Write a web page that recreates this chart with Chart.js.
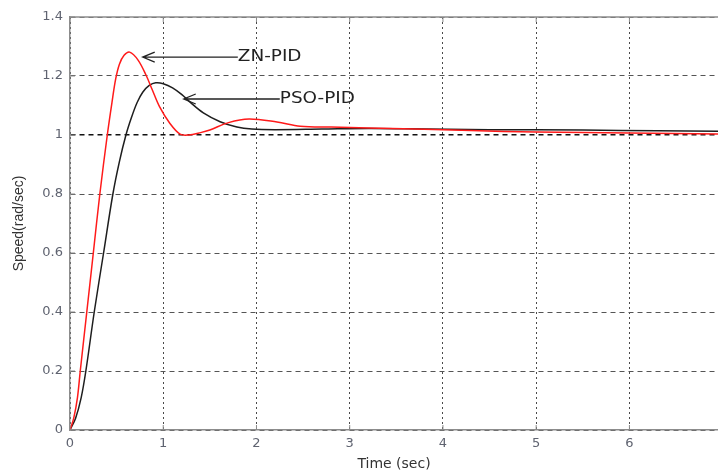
<!DOCTYPE html>
<html>
<head>
<meta charset="utf-8">
<script src="https://cdn.jsdelivr.net/npm/chart.js@4.4.1/dist/chart.umd.min.js"></script>
<style>
  html, body { margin: 0; padding: 0; background: #fff; }
  canvas { display: block; }
</style>
</head>
<body>
<canvas id="speedChart" width="718" height="475"></canvas>
<script>
// step responses
const znTime = [0, 0.04, 0.08, 0.11, 0.18, 0.25, 0.32, 0.40, 0.45, 0.49, 0.53, 0.58, 0.64, 0.73, 0.82, 0.88, 0.96, 1.07, 1.18, 1.27, 1.4, 1.5, 1.7, 1.92, 2.22, 2.47, 2.8, 3.2, 3.7, 4.3, 5.0, 6.0, 6.95];
const znSpeed = [0, 0.04, 0.11, 0.2, 0.4, 0.6, 0.8, 1.0, 1.11, 1.19, 1.24, 1.27, 1.281, 1.254, 1.2, 1.155, 1.096, 1.04, 1.003, 1.0, 1.008, 1.017, 1.042, 1.054, 1.044, 1.03, 1.027, 1.024, 1.02, 1.015, 1.01, 1.007, 1.003];

const psoTime = [0, 0.06, 0.12, 0.17, 0.26, 0.36, 0.46, 0.53, 0.60, 0.66, 0.72, 0.78, 0.85, 0.92, 1.0, 1.1, 1.2, 1.3, 1.43, 1.61, 1.79, 1.95, 2.2, 2.7, 3.2, 3.6, 4.5, 5.5, 6.3, 6.95];
const psoSpeed = [0, 0.04, 0.11, 0.2, 0.4, 0.6, 0.8, 0.91, 1.0, 1.06, 1.11, 1.145, 1.168, 1.177, 1.174, 1.16, 1.137, 1.108, 1.075, 1.045, 1.027, 1.02, 1.018, 1.02, 1.022, 1.021, 1.018, 1.017, 1.014, 1.013];

const yTicks = ['0', '0.2', '0.4', '0.6', '0.8', '1', '1.2', '1.4'];
const xTicks = ['0', '1', '2', '3', '4', '5', '6'];

// labels with arrows: [text, arrow tip time, tip speed, text start time]
const callouts = [
  ['ZN-PID', 0.78, 1.264, 1.80],
  ['PSO-PID', 1.22, 1.122, 2.25]
];

const axisGray = '#8c8c8c';
const tickColor = '#5f6370';

const toPoints = (xs, ys) => xs.map((x, i) => ({ x: x, y: ys[i] }));

const frameAndNotes = {
  id: 'frameAndNotes',
  afterDraw(chart) {
    const ctx = chart.ctx;
    const { left, right, top, bottom } = chart.chartArea;
    const xs = chart.scales.x, ys = chart.scales.y;
    ctx.save();
    // top box edge
    ctx.strokeStyle = axisGray;
    ctx.lineWidth = 1.5;
    ctx.beginPath();
    ctx.moveTo(left, top);
    ctx.lineTo(right, top);
    ctx.stroke();
    // inward tick marks
    ctx.lineWidth = 1;
    ctx.beginPath();
    xs.ticks.forEach(t => {
      const px = xs.getPixelForValue(t.value);
      ctx.moveTo(px, bottom);
      ctx.lineTo(px, bottom - 5);
      ctx.moveTo(px, top);
      ctx.lineTo(px, top + 5);
    });
    ys.ticks.forEach(t => {
      const py = ys.getPixelForValue(t.value);
      ctx.moveTo(left, py);
      ctx.lineTo(left + 5, py);
    });
    ctx.stroke();

    // callouts
    ctx.strokeStyle = '#222';
    ctx.fillStyle = '#222';
    ctx.lineWidth = 1.3;
    ctx.font = '16px "DejaVu Sans"';
    ctx.textBaseline = 'middle';
    callouts.forEach(c => {
      const tipX = xs.getPixelForValue(c[1]);
      const tipY = ys.getPixelForValue(c[2]);
      const textX = xs.getPixelForValue(c[3]);
      ctx.beginPath();
      ctx.moveTo(textX, tipY);
      ctx.lineTo(tipX, tipY);
      ctx.moveTo(tipX + 12, tipY - 5);
      ctx.lineTo(tipX, tipY);
      ctx.lineTo(tipX + 12, tipY + 5);
      ctx.stroke();
      ctx.save();
      ctx.translate(textX, tipY);
      ctx.scale(1.15, 1);
      ctx.fillText(c[0], 0, 0);
      ctx.restore();
    });
    ctx.restore();
  }
};

new Chart(document.getElementById('speedChart'), {
  type: 'line',
  data: {
    datasets: [
      {
        label: 'ZN-PID',
        data: toPoints(znTime, znSpeed),
        borderColor: '#ff1a1a',
        borderWidth: 1.5,
        pointRadius: 0,
        tension: 0.35
      },
      {
        label: 'PSO-PID',
        data: toPoints(psoTime, psoSpeed),
        borderColor: '#1e1e1e',
        borderWidth: 1.5,
        pointRadius: 0,
        tension: 0.35
      }
    ]
  },
  options: {
    responsive: false,
    animation: false,
    layout: { padding: { top: 17, right: 0, left: 0, bottom: 0 } },
    plugins: {
      legend: { display: false },
      tooltip: { enabled: false }
    },
    scales: {
      x: {
        type: 'linear',
        min: 0,
        max: 6.95,
        afterFit: s => { s.height = 45; },
        ticks: {
          stepSize: 1,
          includeBounds: false,
          padding: 6,
          color: tickColor,
          font: { family: 'DejaVu Sans', size: 13 },
          callback: (v) => xTicks[Math.round(v)]
        },
        grid: { color: '#4a4a4a', lineWidth: 1, drawTicks: false },
        border: { color: axisGray, width: 1.5, dash: [2, 3] },
        title: {
          display: true,
          text: 'Time (sec)',
          color: '#333',
          font: { family: 'DejaVu Sans', size: 14 },
          padding: { top: 0, bottom: 2 }
        }
      },
      y: {
        min: 0,
        max: 1.4,
        afterFit: s => { s.width = 70; },
        ticks: {
          stepSize: 0.2,
          padding: 7,
          color: tickColor,
          font: { family: 'DejaVu Sans', size: 13 },
          callback: (v) => yTicks[Math.round(v / 0.2)]
        },
        grid: {
          color: (c) => (c.tick && Math.abs(c.tick.value - 1) < 1e-6) ? '#111' : '#555',
          lineWidth: (c) => (c.tick && Math.abs(c.tick.value - 1) < 1e-6) ? 1.4 : 1,
          drawTicks: false
        },
        border: { color: axisGray, width: 1.5, dash: [5, 4] },
        title: {
          display: true,
          text: 'Speed(rad/sec)',
          color: '#333',
          font: { family: 'Liberation Sans', size: 14 },
          padding: { top: 11, bottom: 0 }
        }
      }
    }
  },
  plugins: [frameAndNotes]
});
</script>
</body>
</html>
